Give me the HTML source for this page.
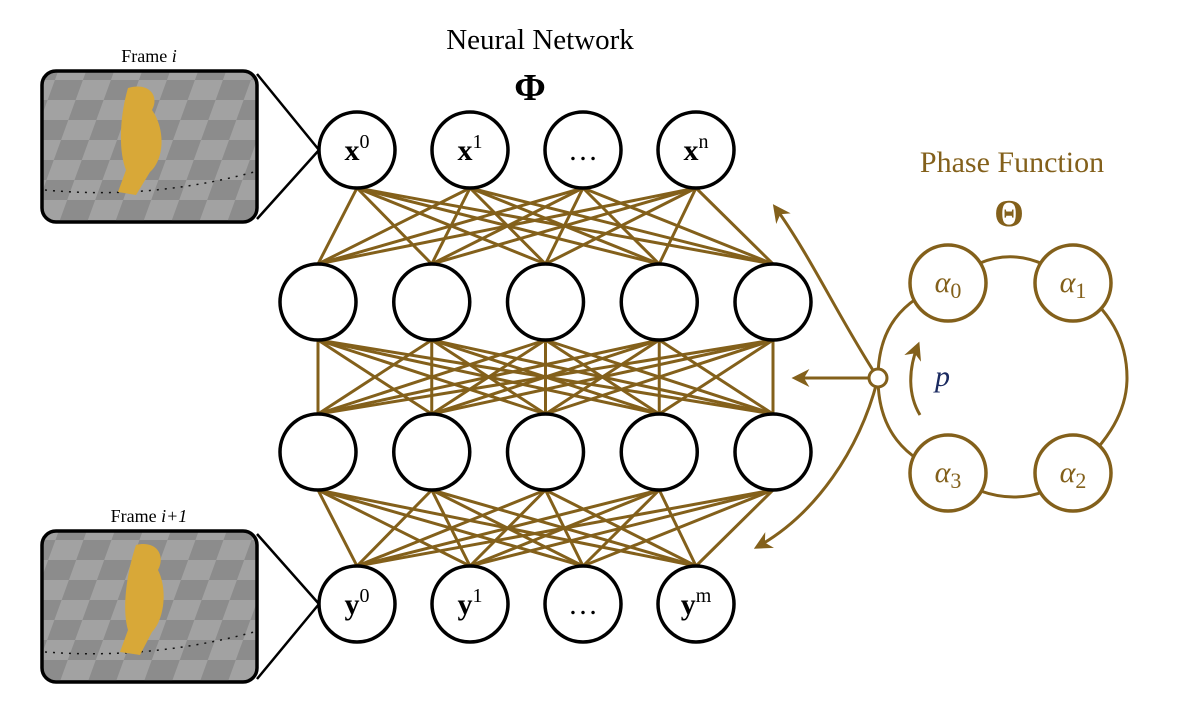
<!DOCTYPE html>
<html><head><meta charset="utf-8"><style>
html,body{margin:0;padding:0;background:#fff;width:1192px;height:721px;overflow:hidden}
svg{display:block}
text{font-family:"Liberation Serif",serif}
</style></head><body>
<svg id="s" width="1192" height="721" viewBox="0 0 1192 721">
<defs>
<pattern id="chk" width="56" height="40" patternUnits="userSpaceOnUse" patternTransform="skewX(-20)">
<rect width="56" height="40" fill="#8c8c8c"/><rect width="28" height="20" fill="#a2a2a2"/><rect x="28" y="20" width="28" height="20" fill="#a2a2a2"/>
</pattern>
<marker id="ah" viewBox="0 0 10 10" refX="8" refY="5" markerWidth="6" markerHeight="6" orient="auto-start-reverse"><path d="M0,0 L10,5 L0,10 L3,5 z" fill="#83601b"/></marker>
</defs>
<text x="540" y="49" font-size="29" text-anchor="middle">Neural Network</text>
<text x="530" y="100" font-size="38" font-weight="bold" text-anchor="middle">Φ</text>
<text x="1012" y="172" font-size="30" fill="#83601b" text-anchor="middle">Phase Function</text>
<text x="1009" y="226" font-size="38" font-weight="bold" fill="#83601b" text-anchor="middle">Θ</text>

<g>
<text x="149" y="62" font-size="18" text-anchor="middle">Frame <tspan font-style="italic">i</tspan></text>
<rect x="42" y="71" width="215" height="151" rx="14" fill="url(#chk)" stroke="#000" stroke-width="3.5"/>
<path d="M45,190 Q150,200 254,172" stroke="#111" stroke-width="1.5" stroke-dasharray="2 6" fill="none"/>
<path d="M128,88 C148,82 160,95 152,110 C166,130 164,160 150,172 L136,195 L118,192 L126,170 C118,150 120,115 128,88z" fill="#d8a838"/>
<line x1="257" y1="74" x2="319" y2="150" stroke="#000" stroke-width="2.5"/>
<line x1="257" y1="219" x2="319" y2="150" stroke="#000" stroke-width="2.5"/>
</g>
<g>
<text x="149" y="522" font-size="18" text-anchor="middle">Frame <tspan font-style="italic">i+1</tspan></text>
<rect x="42" y="531" width="215" height="151" rx="14" fill="url(#chk)" stroke="#000" stroke-width="3.5"/>
<path d="M45,652 Q150,660 254,632" stroke="#111" stroke-width="1.5" stroke-dasharray="2 6" fill="none"/>
<path d="M136,545 C156,540 166,555 158,570 C168,590 164,620 152,632 L140,655 L120,652 L128,630 C122,610 126,575 136,545z" fill="#d8a838"/>
<line x1="257" y1="534" x2="319" y2="604" stroke="#000" stroke-width="2.5"/>
<line x1="257" y1="679" x2="319" y2="604" stroke="#000" stroke-width="2.5"/>
</g>

<g id="net"></g>

<g stroke="#83601b" stroke-width="3" fill="none">
<path d="M948,283 C900,300 878,330 878,378 C878,430 905,460 948,473 C990,505 1040,505 1073,473 C1110,440 1127,410 1127,378 C1127,340 1110,310 1073,283 C1030,248 990,248 948,283z"/>
<path d="M878,378 C840,320 810,255 775,207" marker-end="url(#ah)"/>
<line x1="870" y1="378" x2="795" y2="378" marker-end="url(#ah)"/>
<path d="M878,378 C860,450 815,515 757,547" marker-end="url(#ah)"/>
<path d="M920,415 C908,395 908,370 918,345" marker-end="url(#ah)"/>
<circle cx="878" cy="378" r="9" fill="#fff"/>
</g>
<text x="935" y="386" font-size="30" font-style="italic" fill="#1a2a60">p</text>
<g id="alphas"></g>
</svg>
<script>
const NS='http://www.w3.org/2000/svg';
const gold='#83601b';
const topLabels=['x','x','…','x'];
const topSups=['0','1','','n'];
const botLabels=['y','y','…','y'];
const botSups=['0','1','','m'];
const hiddenCount=[5,5];
const R=38;
const rowY=[150,302,452,604];
function xTop(i){return 357+i*113;}
function xHid(i){return 318+i*113.75;}
const net=document.getElementById('net');
function line(x1,y1,x2,y2){const l=document.createElementNS(NS,'line');l.setAttribute('x1',x1);l.setAttribute('y1',y1);l.setAttribute('x2',x2);l.setAttribute('y2',y2);l.setAttribute('stroke',gold);l.setAttribute('stroke-width','3');


net.appendChild(l);}
for(let i=0;i<topLabels.length;i++)for(let j=0;j<hiddenCount[0];j++)line(xTop(i),rowY[0]+R,xHid(j),rowY[1]-R);
for(let i=0;i<hiddenCount[0];i++)for(let j=0;j<hiddenCount[1];j++)line(xHid(i),rowY[1]+R,xHid(j),rowY[2]-R);
for(let i=0;i<hiddenCount[1];i++)for(let j=0;j<botLabels.length;j++)line(xHid(i),rowY[2]+R,xTop(j),rowY[3]-R);
function mk(tag,attrs){const e=document.createElementNS(NS,tag);for(const k in attrs)e.setAttribute(k,attrs[k]);return e;}
function node(cx,cy,lab,sup,name){const c=mk('circle',{cx:cx,cy:cy,r:R,fill:'#fff',stroke:'#000','stroke-width':'3.5'});


net.appendChild(c);
if(lab){const t=mk('text',{x:cx,y:cy+10,'font-size':'30','text-anchor':'middle'});


if(lab==='…'){t.textContent='…';}else{const a=mk('tspan',{'font-weight':'bold'});a.textContent=lab;const b=mk('tspan',{'font-size':'20',dy:'-12'});b.textContent=sup;t.appendChild(a);t.appendChild(b);}
net.appendChild(t);}}
for(let i=0;i<topLabels.length;i++)node(xTop(i),rowY[0],topLabels[i],topSups[i],'input-node-'+i);
for(let i=0;i<hiddenCount[0];i++)node(xHid(i),rowY[1],null,null,'hidden1-node-'+i);
for(let i=0;i<hiddenCount[1];i++)node(xHid(i),rowY[2],null,null,'hidden2-node-'+i);
for(let i=0;i<botLabels.length;i++)node(xTop(i),rowY[3],botLabels[i],botSups[i],'output-node-'+i);
const alphaIdx=['0','1','3','2'];
const ag=document.getElementById('alphas');
const ac=[[948,283],[1073,283],[948,473],[1073,473]];
for(let k=0;k<4;k++){const c=mk('circle',{cx:ac[k][0],cy:ac[k][1],r:R,fill:'#fff',stroke:gold,'stroke-width':'3.5'});


ag.appendChild(c);
const t=mk('text',{x:ac[k][0],y:ac[k][1]+9,'font-size':'30','text-anchor':'middle',fill:gold});


const a=mk('tspan',{'font-style':'italic'});a.textContent='α';const b=mk('tspan',{'font-size':'22',dy:'6'});b.textContent=alphaIdx[k];t.appendChild(a);t.appendChild(b);ag.appendChild(t);}
</script>
</body></html>
